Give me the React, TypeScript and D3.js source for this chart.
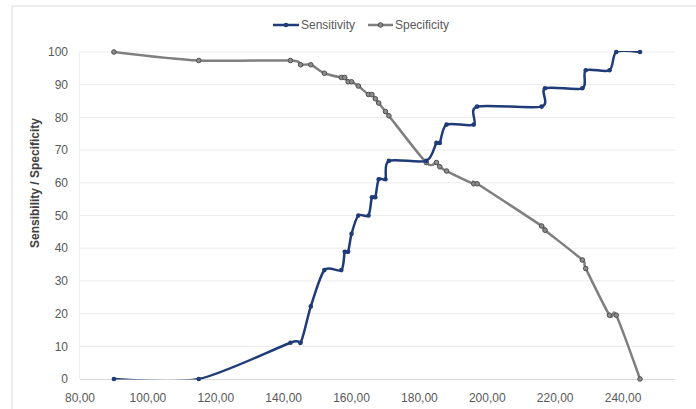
import React from "react";
import * as d3 from "d3";

// cutoff values and the two rates (%)
const cutoffs = [90, 115, 142, 145, 148, 152, 157, 158, 159, 160, 162, 165, 166, 167, 168, 170, 171, 182, 185, 186, 188, 196, 197, 216, 217, 228, 229, 236, 238, 245];
const sensitivity = [0, 0, 11.1, 11.1, 22.2, 33.3, 33.3, 38.9, 38.9, 44.4, 50, 50, 55.6, 55.6, 61.1, 61.1, 66.7, 66.7, 72.2, 72.2, 77.8, 77.8, 83.3, 83.3, 88.9, 88.9, 94.4, 94.4, 100, 100];
const specificity = [100, 97.4, 97.4, 96.1, 96.1, 93.5, 92.2, 92.2, 90.9, 90.9, 89.6, 87.0, 87.0, 85.7, 84.4, 81.8, 80.5, 66.2, 66.2, 64.9, 63.6, 59.7, 59.7, 46.8, 45.5, 36.4, 33.8, 19.5, 19.5, 0];
const xTicks = [80, 100, 120, 140, 160, 180, 200, 220, 240];
const yTicks = [0, 10, 20, 30, 40, 50, 60, 70, 80, 90, 100];

const W = 696;
const H = 409;
const font = "'Liberation Sans', Arial, sans-serif";
const SENS = "#1f3c78";
const SPEC = "#7f7f7f";

const App = () => {
  const x = d3.scaleLinear().domain([80, 255.3]).range([80, 675]);
  const y = d3.scaleLinear().domain([0, 100]).range([379, 52]);

  const line = d3
    .line<number>()
    .x((d, i) => x(cutoffs[i]))
    .y((d) => y(d))
    .curve(d3.curveCardinal.tension(0.2));

  const fmt = (v: number) => v.toFixed(2).replace(".", ",");

  return (
    <svg width={W} height={H} style={{ position: "absolute", left: 0, top: 0, background: "#fff" }} fontFamily={font}>
      <defs>
        {/* plot area clip, like the spreadsheet does for smoothed lines */}
        <clipPath id="plot">
          <rect x={x.range()[0]} y={y(100) - 1} width={x.range()[1] - x.range()[0]} height={y(0) - y(100) + 1.5} />
        </clipPath>
      </defs>
      <rect x={12} y={6} width={W + 10} height={H + 10} fill="#fff" stroke="#d9d9d9" />
      {yTicks.map((t) => (
        <g key={t}>
          {t > 0 && <line x1={80} x2={675} y1={y(t)} y2={y(t)} stroke="#ececec" strokeWidth={1} />}
          <text x={68} y={y(t)} dy="0.35em" textAnchor="end" fontSize={12} fill="#595959">
            {t}
          </text>
        </g>
      ))}
      <line x1={79.5} x2={79.5} y1={52} y2={379} stroke="#eeeeee" />
      <line x1={80} x2={675} y1={379.5} y2={379.5} stroke="#d9d9d9" />
      {xTicks.map((t) => (
        <text key={t} x={x(t)} y={402} textAnchor="middle" fontSize={12} fill="#595959">
          {fmt(t)}
        </text>
      ))}
      <text
        transform={`translate(39,183) rotate(-90)`}
        textAnchor="middle"
        fontSize={12}
        fontWeight="bold"
        fill="#404040"
      >
        Sensibility / Specificity
      </text>

      <g clipPath="url(#plot)">
        <path d={line(specificity) || ""} fill="none" stroke={SPEC} strokeWidth={2.5} />
        <path d={line(sensitivity) || ""} fill="none" stroke={SENS} strokeWidth={2.5} />
      </g>
      {specificity.map((v, i) => (
        <circle key={"p" + i} cx={x(cutoffs[i])} cy={y(v)} r={2.3} fill="#8c8c8c" stroke="#505050" strokeWidth={1} />
      ))}
      {sensitivity.map((v, i) => (
        <circle key={"s" + i} cx={x(cutoffs[i])} cy={y(v)} r={2.3} fill={SENS} />
      ))}

      <g fontSize={12} fill="#595959">
        <line x1={273} x2={299} y1={25} y2={25} stroke={SENS} strokeWidth={2.5} />
        <circle cx={286} cy={25} r={2.3} fill={SENS} />
        <text x={301} y={25} dy="0.35em">Sensitivity</text>
        <line x1={368} x2={393} y1={25} y2={25} stroke={SPEC} strokeWidth={2.5} />
        <circle cx={380.5} cy={25} r={2.3} fill="#8c8c8c" stroke="#505050" strokeWidth={1} />
        <text x={395} y={25} dy="0.35em">Specificity</text>
      </g>
    </svg>
  );
};

export default App;
